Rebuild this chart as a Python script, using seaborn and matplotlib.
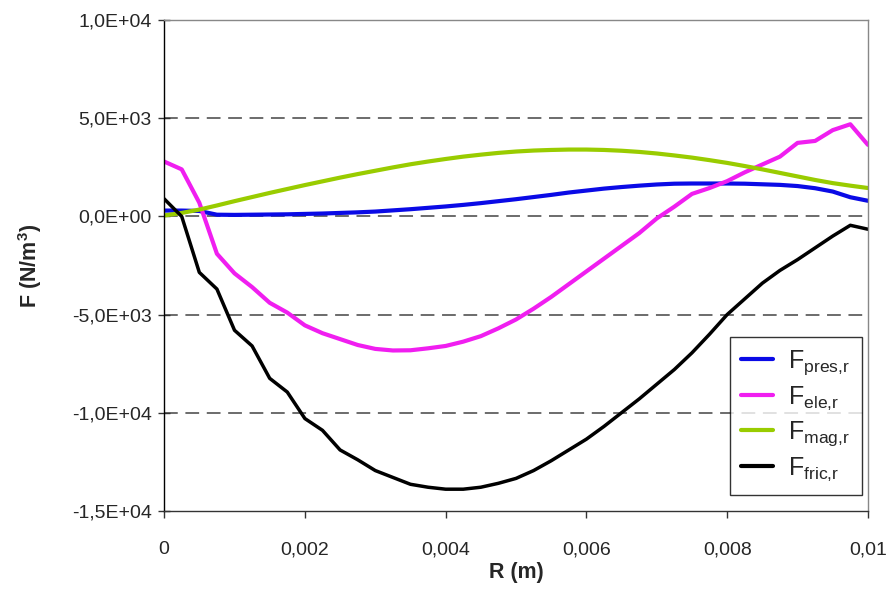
import pandas as pd
import matplotlib
matplotlib.use("Agg")
import matplotlib.pyplot as plt
import seaborn as sns
from matplotlib.ticker import FuncFormatter, MultipleLocator

# ==============================================================================
# DADOS
# ==============================================================================
r_m = [0.0, 0.00025, 0.0005, 0.00075, 0.001, 0.00125, 0.0015, 0.00175, 0.002,
       0.00225, 0.0025, 0.00275, 0.003, 0.00325, 0.0035, 0.00375, 0.004,
       0.00425, 0.0045, 0.00475, 0.005, 0.00525, 0.0055, 0.00575, 0.006,
       0.00625, 0.0065, 0.00675, 0.007, 0.00725, 0.0075, 0.00775, 0.008,
       0.00825, 0.0085, 0.00875, 0.009, 0.00925, 0.0095, 0.00975, 0.01]

f_pres = [300, 300, 280, 90, 80, 90, 100, 110, 130, 150, 180, 210, 250, 310,
          370, 440, 510, 590, 680, 780, 880, 990, 1100, 1220, 1320, 1420, 1500,
          1570, 1630, 1670, 1680, 1680, 1680, 1670, 1640, 1610, 1550, 1440,
          1270, 980, 800]

f_ele = [2800, 2400, 700, -1900, -2900, -3600, -4400, -4900, -5550, -5950,
         -6250, -6550, -6750, -6830, -6820, -6720, -6600, -6380, -6100, -5700,
         -5250, -4700, -4100, -3450, -2800, -2150, -1500, -850, -100, 500,
         1150, 1450, 1800, 2250, 2650, 3050, 3750, 3850, 4400, 4700, 3650]

f_mag = [50, 180, 350, 560, 780, 990, 1200, 1400, 1600, 1790, 1980, 2160,
         2330, 2500, 2660, 2800, 2930, 3050, 3150, 3240, 3310, 3360, 3390,
         3410, 3410, 3390, 3350, 3290, 3210, 3110, 3000, 2870, 2730, 2570,
         2400, 2220, 2040, 1860, 1700, 1570, 1450]

f_fric = [900, 0, -2850, -3700, -5800, -6600, -8250, -8950, -10300, -10900,
          -11900, -12400, -12950, -13300, -13650, -13800, -13900, -13900,
          -13800, -13600, -13350, -12950, -12450, -11900, -11350, -10700,
          -10000, -9300, -8550, -7800, -6950, -6000, -5000, -4200, -3400,
          -2750, -2200, -1600, -1000, -450, -650]

series_names = [r'F$_{\mathregular{pres{,}r}}$', r'F$_{\mathregular{ele{,}r}}$',
                r'F$_{\mathregular{mag{,}r}}$', r'F$_{\mathregular{fric{,}r}}$']
series_colors = ['#0a0ae6', '#f01ef0', '#99cc00', '#000000']

# ==============================================================================
# CONFIGURAÇÕES
# ==============================================================================
sns.set_style("white")
plt.rcParams['font.family'] = ['Liberation Sans', 'DejaVu Sans']
plt.rcParams['mathtext.fontset'] = 'custom'
plt.rcParams['mathtext.rm'] = 'Liberation Sans'
plt.rcParams['mathtext.bf'] = 'Liberation Sans:bold'

linhas = []
for nome, valores in zip(series_names, [f_pres, f_ele, f_mag, f_fric]):
    linhas.append(pd.DataFrame({'R': r_m, 'F': valores, 'Serie': nome}))
df = pd.concat(linhas, ignore_index=True)

fig = plt.figure(figsize=(8.92, 5.96), dpi=100)
ax = fig.add_axes([0.184, 0.143, 0.789, 0.823])

# linhas de grade tracejadas
for yv in [5000, 0, -5000, -10000]:
    ax.axhline(yv, color='#444444', linestyle=(0, (9, 5)), linewidth=1.1, zorder=0)

sns.lineplot(data=df, x='R', y='F', hue='Serie', hue_order=series_names,
             palette=series_colors, linewidth=3.0, ax=ax, legend=False, sort=False)
ax.lines[-1].set_linewidth(2.5)

ax.set_xlim(0, 0.01)
ax.set_ylim(-15000, 10000)
ax.xaxis.set_major_locator(MultipleLocator(0.002))
ax.yaxis.set_major_locator(MultipleLocator(5000))


def fmt_x(v, pos):
    if abs(v) < 1e-12:
        return '0'
    return ('%g' % round(v, 4)).replace('.', ',')


def fmt_y(v, pos):
    s = '%.1E' % v
    return s.replace('.', ',')


ax.xaxis.set_major_formatter(FuncFormatter(fmt_x))
ax.yaxis.set_major_formatter(FuncFormatter(fmt_y))
ax.tick_params(axis='x', direction='out', length=5, width=1, labelsize=14,
               bottom=True, color='#333333', pad=17)
ax.tick_params(axis='y', direction='inout', length=8, width=1, labelsize=14,
               left=True, color='#333333', pad=5)

ax.set_xlabel('R (m)', fontsize=15.5, fontweight='bold', labelpad=3)
ax.set_ylabel(r'F (N/m$^{\mathbf{3}}$)', fontsize=15.5, fontweight='bold', labelpad=20)

for lado, cor in [('left', '#000000'), ('bottom', '#333333'),
                  ('top', '#888888'), ('right', '#888888')]:
    ax.spines[lado].set_visible(True)
    ax.spines[lado].set_color(cor)
    ax.spines[lado].set_linewidth(1.0)

handles = [plt.Line2D([], [], color=c, linewidth=3.0) for c in series_colors]
leg = ax.legend(handles, series_names, loc='lower right',
                bbox_to_anchor=(0.991, 0.033), borderaxespad=0, fontsize=18,
                frameon=True, fancybox=False, edgecolor='#000000',
                handlelength=1.3, handletextpad=0.6, labelspacing=0.3,
                borderpad=0.45)
leg.get_frame().set_linewidth(1.0)

fig.savefig('out.png', dpi=100)
